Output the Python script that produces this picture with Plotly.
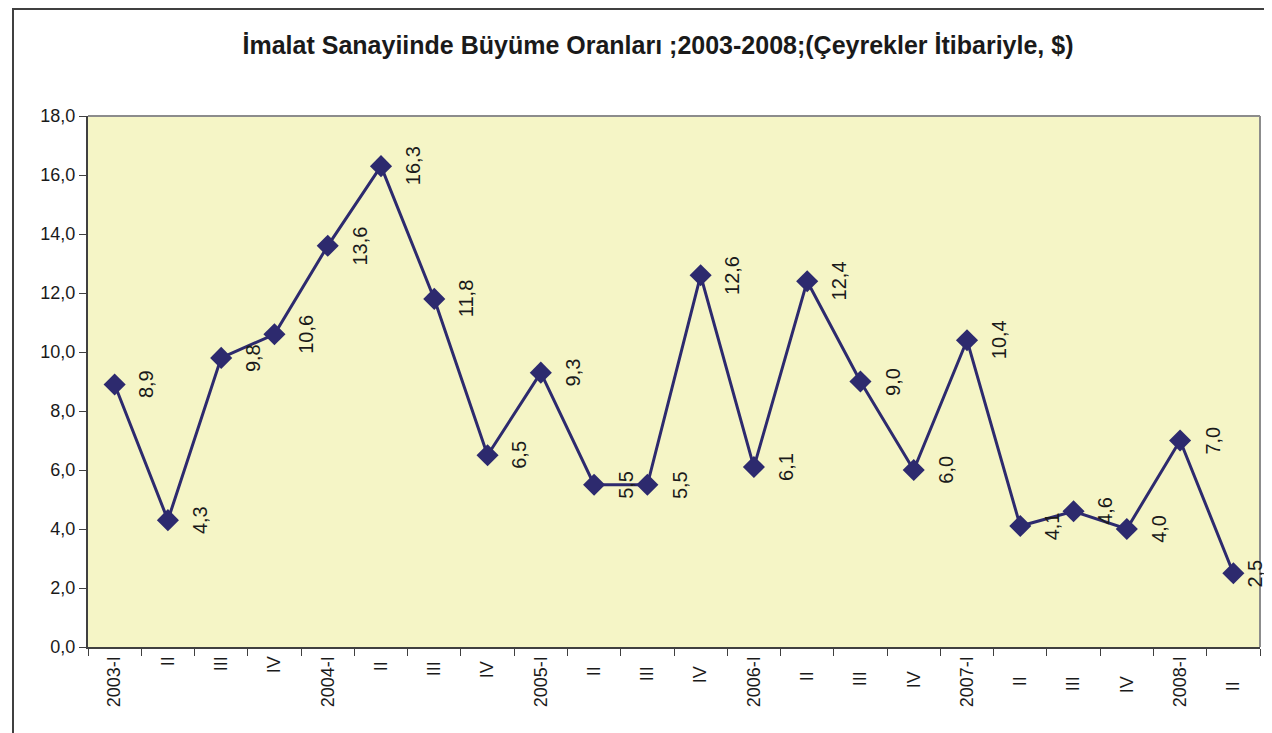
import plotly.graph_objects as go

categories = ["2003-I", "II", "III", "IV", "2004-I", "II ", "III ", "IV ",
              "2005-I", "II  ", "III  ", "IV  ", "2006-I", "II   ", "III   ", "IV   ",
              "2007-I", "II    ", "III    ", "IV    ", "2008-I", "II     "]
values = [8.9, 4.3, 9.8, 10.6, 13.6, 16.3, 11.8, 6.5, 9.3, 5.5, 5.5, 12.6,
          6.1, 12.4, 9.0, 6.0, 10.4, 4.1, 4.6, 4.0, 7.0, 2.5]
y_ticks = [0, 2, 4, 6, 8, 10, 12, 14, 16, 18]

title = "İmalat Sanayiinde Büyüme Oranları ;2003-2008;(Çeyrekler İtibariyle, $)"
line_color = "#2D2A6E"
font_family = "Liberation Sans, Arial, sans-serif"

# page offset (body margin) compensation
OFF = 8
W, H = 1272, 733
L, R, T, B = 88 - OFF, 1260 - OFF, 116 - OFF, 647 - OFF
pw, ph = R - L, B - T

fig = go.Figure()
fig.add_trace(go.Scatter(
    x=categories, y=values, mode="lines+markers",
    line=dict(color=line_color, width=3),
    marker=dict(symbol="diamond", size=17, color=line_color),
    hoverinfo="skip", showlegend=False,
))

n = len(categories)
for i, (c, v) in enumerate(zip(categories, values)):
    fig.add_annotation(
        x=c, y=v, text=f"{v:.1f}".replace(".", ","), textangle=-90,
        showarrow=False, xshift=22 if i == n - 1 else 32,
        font=dict(family=font_family, size=20, color="#1a1a1a"),
    )

# outer chart frame
fig.add_shape(type="rect", xref="paper", yref="paper",
              x0=(13 - OFF - L) / pw, x1=(W + 20 - L) / pw,
              y0=(B - H - 30) / ph, y1=(B - 1) / ph,
              line=dict(color="#404040", width=2), fillcolor="rgba(0,0,0,0)", layer="below")
# top/right gray borders of plot area
fig.add_shape(type="line", xref="paper", yref="paper", x0=0, x1=1, y0=1, y1=1,
              line=dict(color="#8c8c8c", width=2))
fig.add_shape(type="line", xref="paper", yref="paper", x0=1, x1=1, y0=0, y1=1,
              line=dict(color="#8c8c8c", width=2))

fig.update_layout(
    width=W, height=H,
    margin=dict(l=L, r=W - R, t=T, b=H - B),
    paper_bgcolor="white", plot_bgcolor="#F5F5C6",
    separators=",.",
    font=dict(family=font_family, size=18, color="#1a1a1a"),
    title=dict(text=f"<b>{title}</b>", x=(658 - OFF) / W, xanchor="center",
               y=1 - (45 - OFF) / H, yanchor="middle",
               font=dict(family=font_family, size=25, color="#1a1a1a")),
    xaxis=dict(type="category", range=[-0.5, n - 0.5], tickangle=-90,
               tickson="boundaries", ticks="outside", ticklen=7, tickcolor="#404040",
               showline=True, linecolor="#404040", linewidth=2, showgrid=False,
               tickfont=dict(size=18), fixedrange=True),
    yaxis=dict(range=[0, 18], tickvals=y_ticks, tickformat=".1f", ticks="outside",
               ticklen=7, tickcolor="#404040", showline=True, linecolor="#404040",
               linewidth=2, showgrid=False, zeroline=False, tickfont=dict(size=18),
               fixedrange=True),
)

fig.write_html("out.html")
